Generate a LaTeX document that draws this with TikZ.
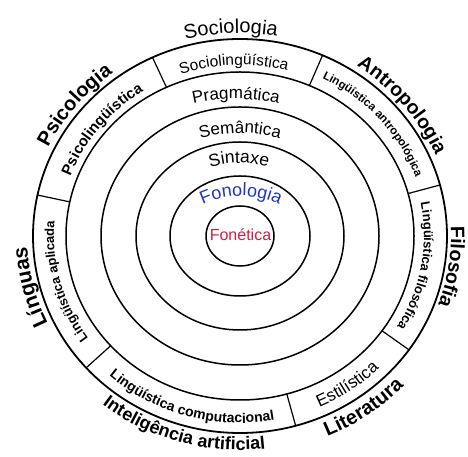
\documentclass[tikz,border=0pt]{standalone}
\usepackage{fontspec}
\setmainfont{Liberation Sans}
\usetikzlibrary{decorations.text,calc}
\definecolor{fonred}{HTML}{D0203F}
\definecolor{fonblue}{HTML}{2035C8}
% text along an arc of an ellipse centred on (O): rx, ry, start, end, format, text
\newcommand\ringlabel[6]{%
  \path[decorate,decoration={text along path,text align=center,text={|#5|#6}}]
    ($(O)+(#3:#1 and #2)$) arc[start angle=#3,end angle=#4,x radius=#1,y radius=#2];}
% text along a circular arc: centre x, centre y, radius, start, end, format+text
\newcommand\arclabel[6]{%
  \path[decorate,decoration={text along path,text align=center,text={#6}}]
    ($(#1,#2)+(#4:#3)$) arc[start angle=#4,end angle=#5,radius=#3];}
\begin{document}
\begin{tikzpicture}[x=1pt,y=1pt,
  ring/.style={line width=1.5pt},
  outerring/.style={line width=1.8pt},
  divider/.style={line width=1.2pt}]
\useasboundingbox (0,0) rectangle (468,457);
\coordinate (O) at (240,221);
% rings
\foreach \rx/\ry in {34/30,70/60,104/94,139/129,174/164}
  \draw[ring] (O) ellipse[x radius=\rx, y radius=\ry];
\draw[outerring] (O) ellipse[x radius=207, y radius=197];
% dividers of the outer band
\foreach \a in {115,66.5,15,-35.3,-74.4,222,168}
  \draw[divider] ($(O)+(\a:174 and 164)$) -- ($(O)+(\a:207 and 197)$);
% outer labels
\ringlabel{213}{203}{137.5}{47.5}{\fontsize{20}{24}\selectfont}{Sociologia}
\ringlabel{213}{203}{186}{96}{\bfseries\fontsize{20}{24}\selectfont}{Psicologia}
\ringlabel{213}{203}{84.5}{-5.5}{\bfseries\fontsize{19.5}{23}\selectfont}{Antropologia}
\ringlabel{211}{201}{36.5}{-53.5}{\bfseries\fontsize{19.5}{23}\selectfont}{Filosofia}
\ringlabel{213}{203}{239}{149}{\bfseries\fontsize{21}{25}\selectfont}{Línguas}
\ringlabel{227}{217}{260}{350}{\bfseries\fontsize{20}{24}\selectfont}{Literatura}
\ringlabel{224}{214}{204}{304}{\bfseries\fontsize{18}{22}\selectfont}{Inteligência artificial}
% band labels
\ringlabel{181}{171}{137}{47}{\fontsize{15.5}{19}\selectfont}{Sociolingüística}
\ringlabel{181}{171}{186.5}{96.5}{\bfseries\fontsize{15}{18}\selectfont}{Psicolingüística}
\ringlabel{186}{176}{86}{-4}{\bfseries\fontsize{11.5}{14}\selectfont}{Lingüística antropológica}
\ringlabel{184}{174}{35}{-55}{\bfseries\fontsize{13}{16}\selectfont}{Lingüística filosófica}
\ringlabel{186}{176}{240}{150}{\bfseries\fontsize{13}{16}\selectfont}{Lingüística aplicada}
\ringlabel{197}{187}{209}{299}{\bfseries\fontsize{14}{17}\selectfont}{Lingüística computacional}
\ringlabel{197}{187}{260}{350}{\fontsize{17}{20}\selectfont}{Estilística}
% inner labels
\arclabel{236}{168}{190}{120}{60}{|\fontsize{17}{20}\selectfont|Pragmática}
\arclabel{240}{174}{150}{125}{55}{|\fontsize{17}{20}\selectfont|Semântica}
\arclabel{239}{194}{100}{125}{55}{|\fontsize{17.5}{21}\selectfont|Sintaxe}
\arclabel{241}{171}{90}{125}{55}{|\color{fonblue}\fontsize{18}{22}\selectfont|Fonologia}
\node[font=\fontsize{16}{19}\selectfont, text=fonred, anchor=base] (fonetica) at (240.5,216) {Fonética};
\end{tikzpicture}
\end{document}
